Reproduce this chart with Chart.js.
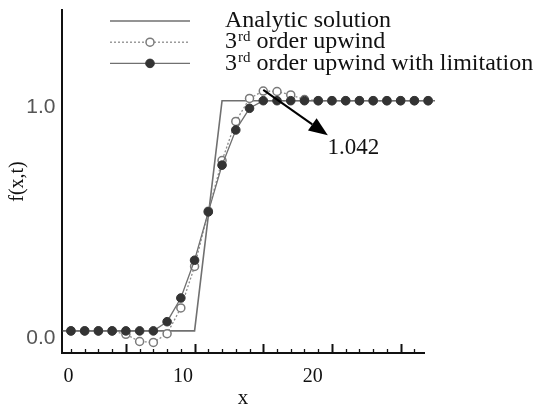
<!DOCTYPE html>
<html>
<head>
<meta charset="utf-8">
<script src="https://cdn.jsdelivr.net/npm/chart.js@4/dist/chart.umd.min.js"></script>
<style>
  html, body { margin: 0; padding: 0; background: #fff; }
</style>
</head>
<body>
<canvas id="chart" width="540" height="406"></canvas>
<script>
/* --------------- Data --------------------- */
const gridX = [0, 1, 2, 3, 4, 5, 6, 7, 8, 9, 10, 11, 12, 13, 14, 15, 16, 17, 18, 19, 20, 21, 22, 23, 24, 25, 26];
const upwind3 = [0, 0, 0, 0, -0.015, -0.046, -0.05, -0.012, 0.1, 0.28, 0.52, 0.74, 0.91, 1.01, 1.042, 1.04, 1.025, 1.005, 1, 1, 1, 1, 1, 1, 1, 1, 1];
const upwind3Limited = [0, 0, 0, 0, 0, 0, 0, 0.04, 0.143, 0.307, 0.517, 0.72, 0.873, 0.967, 1, 1, 1, 1, 1, 1, 1, 1, 1, 1, 1, 1, 1];
const analyticX = [-0.6, 9, 11, 26.5];
const analyticY = [0, 0, 1, 1];
const legendLabels = ["Analytic solution", "3rd order upwind", "3rd order upwind with limitation"];
/* tick labels of the original figure sit a little off the grid points */
const xTickLabels = ["0", "10", "20"];
const xTickAt = [-0.17, 8.15, 17.6];
const yTickValues = [0, 1];
const peakValue = "1.042";

const SERIF = "'Liberation Serif', 'Times New Roman', serif";
const SANS = "'Liberation Sans', Arial, sans-serif";

/* --------------- Minor / major ticks pointing into the plot --------------------- */
const innerTicks = {
  id: "innerTicks",
  afterDraw(chart) {
    const { ctx, chartArea, scales } = chart;
    ctx.save();
    ctx.strokeStyle = "#111";
    for (let i = 0; i <= 25; i++) {
      const px = Math.round(scales.x.getPixelForValue(i)) + 0.5;
      const major = i % 5 === 4;
      ctx.lineWidth = major ? 2 : 1.3;
      ctx.beginPath();
      ctx.moveTo(px, chartArea.bottom);
      ctx.lineTo(px, chartArea.bottom - (major ? 9 : 4));
      ctx.stroke();
    }
    ctx.restore();
  },
};

/* --------------- Legend with the superscript "rd" --------------------- */
const drawMarker = (ctx, ds, x, y) => {
  if (!ds.pointRadius) return;
  ctx.beginPath();
  ctx.arc(x, y, ds.pointRadius, 0, Math.PI * 2);
  ctx.fillStyle = ds.pointBackgroundColor;
  ctx.fill();
  ctx.lineWidth = ds.pointBorderWidth;
  ctx.strokeStyle = ds.pointBorderColor;
  ctx.setLineDash([]);
  ctx.stroke();
};
const paperLegend = {
  id: "paperLegend",
  afterDraw(chart) {
    const ctx = chart.ctx;
    const order = [2, 1, 0]; // analytic, upwind, limited
    ctx.save();
    order.forEach((dsIndex, row) => {
      const ds = chart.data.datasets[dsIndex];
      const y = 21 + row * 21.2;
      ctx.beginPath();
      ctx.setLineDash(ds.borderDash || []);
      ctx.lineWidth = ds.borderWidth;
      ctx.strokeStyle = ds.borderColor;
      ctx.moveTo(110, y);
      ctx.lineTo(190, y);
      ctx.stroke();
      drawMarker(ctx, ds, 150, y);

      const label = legendLabels[row];
      const m = label.match(/^(\d)(rd)(.*)$/);
      ctx.fillStyle = "#111";
      ctx.textBaseline = "middle";
      ctx.textAlign = "left";
      ctx.font = "24px " + SERIF;
      let x = 225;
      if (m) {
        ctx.fillText(m[1], x, y);
        x += ctx.measureText(m[1]).width + 1;
        ctx.font = "15px " + SERIF;
        ctx.fillText(m[2], x, y - 5);
        x += ctx.measureText(m[2]).width;
        ctx.font = "24px " + SERIF;
        ctx.fillText(m[3], x, y);
      } else {
        ctx.fillText(label, x, y);
      }
    });
    ctx.restore();
  },
};

/* --------------- Arrow pointing at the overshoot --------------------- */
const peakArrow = {
  id: "peakArrow",
  afterDraw(chart) {
    const { ctx, scales } = chart;
    const x0 = scales.x.getPixelForValue(14);
    const y0 = scales.y.getPixelForValue(1.047);
    const x1 = scales.x.getPixelForValue(18.7);
    const y1 = scales.y.getPixelForValue(0.85);
    const a = Math.atan2(y1 - y0, x1 - x0);
    const len = 19, half = 7.5;
    const bx = x1 - len * Math.cos(a), by = y1 - len * Math.sin(a);
    ctx.save();
    ctx.strokeStyle = "#000";
    ctx.fillStyle = "#000";
    ctx.lineWidth = 2;
    ctx.beginPath();
    ctx.moveTo(x0, y0);
    ctx.lineTo(bx, by);
    ctx.stroke();
    ctx.beginPath();
    ctx.moveTo(x1, y1);
    ctx.lineTo(bx + half * Math.sin(a), by - half * Math.cos(a));
    ctx.lineTo(bx - half * Math.sin(a), by + half * Math.cos(a));
    ctx.closePath();
    ctx.fill();
    ctx.font = "23px " + SERIF;
    ctx.textAlign = "center";
    ctx.textBaseline = "middle";
    ctx.fillStyle = "#111";
    ctx.fillText(peakValue, scales.x.getPixelForValue(20.56), scales.y.getPixelForValue(0.795));
    ctx.restore();
  },
};

/* --------------- Chart --------------------- */
const toPoints = (xs, ys) => xs.map((x, i) => ({ x: x, y: ys[i] }));

new Chart(document.getElementById("chart"), {
  type: "line",
  plugins: [innerTicks, paperLegend, peakArrow],
  data: {
    datasets: [
      {
        label: legendLabels[2],
        data: toPoints(gridX, upwind3Limited),
        borderColor: "#707070",
        borderWidth: 1.3,
        pointRadius: 4.3,
        pointBackgroundColor: "#333",
        pointBorderColor: "#333",
        pointBorderWidth: 1,
        clip: false,
      },
      {
        label: legendLabels[1],
        data: toPoints(gridX, upwind3),
        borderColor: "#8c8c8c",
        borderDash: [2, 2],
        borderWidth: 1.3,
        pointRadius: 4,
        pointBackgroundColor: "#fff",
        pointBorderColor: "#7a7a7a",
        pointBorderWidth: 1.5,
        clip: false,
      },
      {
        label: legendLabels[0],
        data: toPoints(analyticX, analyticY),
        borderColor: "#707070",
        borderWidth: 1.6,
        pointRadius: 0,
        clip: false,
      },
    ],
  },
  options: {
    responsive: false,
    animation: false,
    layout: { padding: { top: 10, right: 116, left: 0, bottom: 0 } },
    plugins: {
      legend: { display: false },
      tooltip: { enabled: false },
    },
    elements: { line: { tension: 0 } },
    scales: {
      x: {
        type: "linear",
        min: -0.65,
        max: 25.7,
        afterFit: (s) => { s.height = 53; s.paddingLeft = 0; s.paddingRight = 0; },
        afterBuildTicks: (s) => { s.ticks = xTickAt.map((v) => ({ value: v })); },
        grid: { display: false, drawTicks: false },
        border: { display: true, color: "#111", width: 2 },
        ticks: {
          padding: 12,
          color: "#111",
          font: { family: SERIF, size: 20 },
          callback: (v, i) => xTickLabels[i],
        },
        title: {
          display: true,
          text: "x",
          color: "#111",
          font: { family: SERIF, size: 21, lineHeight: 0.7 },
          padding: { top: 0, bottom: 0 },
        },
      },
      y: {
        min: -0.096,
        max: 1.394,
        afterFit: (s) => { s.width = 62; s.paddingTop = 0; s.paddingBottom = 0; },
        afterBuildTicks: (s) => { s.ticks = yTickValues.map((v) => ({ value: v })); },
        grid: { display: false, drawTicks: false },
        border: { display: true, color: "#111", width: 2 },
        ticks: {
          padding: 6.5,
          labelOffset: 7,
          color: "#555",
          font: { family: SANS, size: 21 },
          callback: (v) => v.toFixed(1),
        },
        title: {
          display: true,
          text: "f(x,t)",
          color: "#111",
          font: { family: SERIF, size: 20, lineHeight: 1 },
          padding: { top: 8, bottom: 0 },
        },
      },
    },
  },
});
</script>
</body>
</html>
